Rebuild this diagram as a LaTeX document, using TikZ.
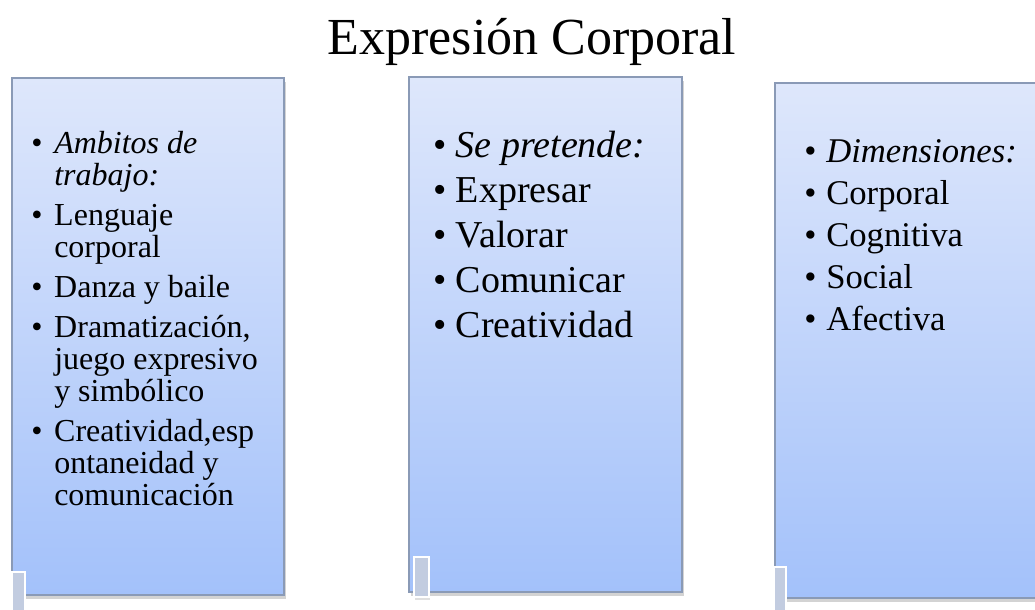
\documentclass[tikz,border=0pt]{standalone}
\usepackage{fontspec}
\setmainfont{Liberation Serif}
\usetikzlibrary{positioning,calc,shadows}

\definecolor{paneltop}{HTML}{DEE7FB}
\definecolor{panelbot}{HTML}{A3C1FA}
\definecolor{panelline}{HTML}{8A9AB6}
\definecolor{tabfill}{HTML}{C2CCE0}

\begin{document}
\begin{tikzpicture}[x=0.75pt,y=-0.75pt,
  panel/.style={draw=panelline, line width=1pt, top color=paneltop, bottom color=panelbot,
    drop shadow={opacity=0.35, shadow xshift=1.5pt, shadow yshift=-3pt}},
  tabbox/.style={draw=white, line width=1.5pt, fill=tabfill,
    drop shadow={opacity=0.25, shadow xshift=1pt, shadow yshift=-2pt}},
  listtext/.style={anchor=base west, inner sep=0pt}]
\clip (0,0) rectangle (1035,610);
\useasboundingbox (0,0) rectangle (1035,610);

\node[anchor=base, inner sep=0pt, font=\fontsize{39}{45}\selectfont] (titulo) at (532,55) {Expresión Corporal};

% three panels
\path[panel] (12,78) rectangle (284,595);
\path[panel] (409,77) rectangle (682,592);
\path[panel] (775,83) rectangle (1050,598);

% small tabs
\path[tabbox] (12,572) rectangle (25,615);
\path[tabbox] (414,557) rectangle (429,597);
\path[tabbox] (774,567) rectangle (786,615);

\node[listtext, font=\fontsize{24}{24}\selectfont] (ambitos) at (31,153) {%
\begin{tabular}[t]{@{}p{17.25pt}@{}l@{}}
\textbullet & \textit{Ambitos de}\\
 & \textit{trabajo:}\\[6pt]
\textbullet & Lenguaje\\
 & corporal\\[6pt]
\textbullet & Danza y baile\\[6pt]
\textbullet & Dramatización,\\
 & juego expresivo\\
 & y simbólico\\[6pt]
\textbullet & Creatividad,esp\\
 & ontaneidad y\\
 & comunicación
\end{tabular}};

\node[listtext, font=\fontsize{28.5}{33.75}\selectfont] (pretende) at (433,157) {%
\begin{tabular}[t]{@{}p{17pt}@{}l@{}}
\textbullet & \textit{Se pretende:}\\
\textbullet & Expresar\\
\textbullet & Valorar\\
\textbullet & Comunicar\\
\textbullet & Creatividad
\end{tabular}};

\node[listtext, font=\fontsize{26}{31.5}\selectfont] (dimensiones) at (804,162) {%
\begin{tabular}[t]{@{}p{16.5pt}@{}l@{}}
\textbullet & \textit{Dimensiones:}\\
\textbullet & Corporal\\
\textbullet & Cognitiva\\
\textbullet & Social\\
\textbullet & Afectiva
\end{tabular}};
\end{tikzpicture}
\end{document}
